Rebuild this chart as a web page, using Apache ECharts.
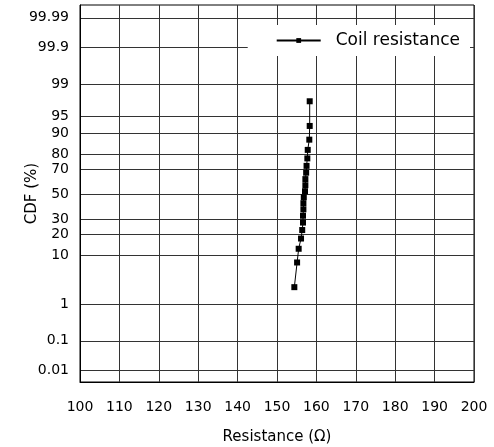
<!DOCTYPE html>
<html>
<head>
<meta charset="utf-8">
<script src="https://cdn.jsdelivr.net/npm/echarts@6/dist/echarts.min.js"></script>
<style>
  html, body { margin: 0; padding: 0; background: #fff; }
  #chart { width: 494px; height: 447px; }
</style>
</head>
<body>
<div id="chart"></div>
<script>
// Coil resistance samples and their cumulative probability (median-rank plotting positions)
const seriesName = 'Coil resistance';
const cdfPercent = [2.5, 7.5, 12.5, 17.5, 22.5, 27.5, 32.5, 37.5, 42.5, 47.5,
                    52.5, 57.5, 62.5, 67.5, 72.5, 77.5, 82.5, 87.5, 92.5, 97.5];
const resistance = [154.4, 155.1, 155.5, 156.1, 156.4, 156.6, 156.6, 156.7, 156.7, 156.8,
                    157.1, 157.2, 157.2, 157.4, 157.5, 157.7, 157.8, 158.2, 158.3, 158.3];

// Probability-scale tick labels (percent)
const probTicks = ['0.01', '0.1', '1', '10', '20', '30', '50', '70', '80', '90', '95', '99', '99.9', '99.99'];
const xTicks = [100, 110, 120, 130, 140, 150, 160, 170, 180, 190, 200];

// Inverse standard normal CDF (Acklam's rational approximation)
function probit(p) {
  const a = [-3.969683028665376e+01, 2.209460984245205e+02, -2.759285104469687e+02,
             1.383577518672690e+02, -3.066479806614716e+01, 2.506628277459239e+00];
  const b = [-5.447609879822406e+01, 1.615858368580409e+02, -1.556989798598866e+02,
             6.680131188771972e+01, -1.328068155288572e+01];
  const c = [-7.784894002430293e-03, -3.223964580411365e-01, -2.400758277161838e+00,
             -2.549671010323004e+00, 4.374664141464968e+00, 2.938163982698783e+00];
  const d = [7.784695709041462e-03, 3.224671290700398e-01, 2.445134137142996e+00,
             3.754408661907416e+00];
  const pLow = 0.02425, pHigh = 1 - pLow;
  let q, r;
  if (p < pLow) {
    q = Math.sqrt(-2 * Math.log(p));
    return (((((c[0]*q+c[1])*q+c[2])*q+c[3])*q+c[4])*q+c[5]) /
           ((((d[0]*q+d[1])*q+d[2])*q+d[3])*q+1);
  } else if (p <= pHigh) {
    q = p - 0.5; r = q * q;
    return (((((a[0]*r+a[1])*r+a[2])*r+a[3])*r+a[4])*r+a[5])*q /
           (((((b[0]*r+b[1])*r+b[2])*r+b[3])*r+b[4])*r+1);
  } else {
    q = Math.sqrt(-2 * Math.log(1 - p));
    return -(((((c[0]*q+c[1])*q+c[2])*q+c[3])*q+c[4])*q+c[5]) /
            ((((d[0]*q+d[1])*q+d[2])*q+d[3])*q+1);
  }
}

const tickZ = probTicks.map(t => probit(parseFloat(t) / 100));
function labelFor(v) {
  let best = 0, bd = Infinity;
  tickZ.forEach((z, i) => { const dd = Math.abs(z - v); if (dd < bd) { bd = dd; best = i; } });
  return bd < 1e-6 ? probTicks[best] : '';
}

const points = resistance.map((x, i) => [x, probit(cdfPercent[i] / 100)]);

const FONT = 'DejaVu Sans';
const gridColor = '#333';

const chart = echarts.init(document.getElementById('chart'), null, { renderer: 'canvas' });
chart.setOption({
  animation: false,
  backgroundColor: '#fff',
  textStyle: { fontFamily: FONT, color: '#000' },
  grid: { left: 80, right: 20, top: 5, bottom: 65, show: true, borderColor: '#000', borderWidth: 1,
          backgroundColor: 'transparent', containLabel: false, outerBoundsMode: 'none' },
  legend: {
    data: [seriesName],
    right: 24, top: 25,
    padding: [7, 10, 7, 28],
    backgroundColor: '#fff',
    itemWidth: 44, itemHeight: 6,
    textStyle: { fontFamily: FONT, fontSize: 17, color: '#000', padding: [0, 0, 0, 10] }
  },
  xAxis: {
    type: 'value', min: xTicks[0], max: xTicks[xTicks.length - 1], interval: 10,
    name: 'Resistance (Ω)', nameLocation: 'middle', nameGap: 48, nameMoveOverlap: false,
    nameTextStyle: { fontFamily: FONT, fontSize: 15, color: '#000' },
    axisLine: { show: true, onZero: false, lineStyle: { color: '#000' } },
    axisTick: { show: false },
    axisLabel: { fontFamily: FONT, fontSize: 14, color: '#000', margin: 18 },
    splitLine: { show: true, lineStyle: { color: gridColor, width: 1 } }
  },
  yAxis: {
    type: 'value', min: -3.96, max: 3.99,
    name: 'CDF (%)', nameLocation: 'middle', nameGap: 40, nameMoveOverlap: false,
    nameTextStyle: { fontFamily: FONT, fontSize: 15, color: '#000' },
    axisLine: { show: true, onZero: false, lineStyle: { color: '#000' } },
    axisTick: { show: false, customValues: tickZ },
    axisLabel: { fontFamily: FONT, fontSize: 14, color: '#000', margin: 11,
                 customValues: tickZ, formatter: v => labelFor(v) },
    splitLine: { show: true, lineStyle: { color: gridColor, width: 1 } }
  },
  series: [{
    name: seriesName,
    type: 'line',
    data: points,
    symbol: 'rect',
    symbolSize: 6,
    itemStyle: { color: '#000' },
    lineStyle: { color: '#000', width: 1 },
    z: 5
  }]
});
</script>
</body>
</html>
